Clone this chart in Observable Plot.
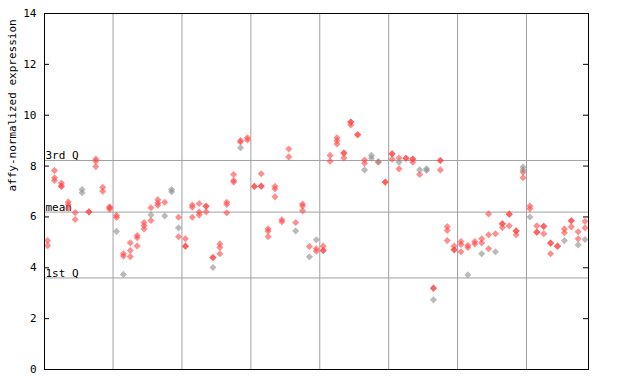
<!DOCTYPE html>
<html><head><meta charset="utf-8">
<script src="https://cdn.jsdelivr.net/npm/d3@7"></script>
<script src="https://cdn.jsdelivr.net/npm/@observablehq/plot@0.6"></script>
<style>body{margin:0;background:#fff}</style>
</head><body><div id="chart"></div>
<script>
// red replicate values per sample column (index 0..78)
const redValues = [
 [5.07,4.87],[7.83,7.54,7.43],[7.33,7.22,7.2],[6.59,6.49,6.34],[6.17,5.9],[],[6.2,6.2],[8.28,8.19,7.98],[7.17,7.01],[6.4,6.36,6.3],
 [6.06,5.98],[4.55,4.46],[4.98,4.68,4.44],[5.27,5.18,4.86],[5.78,5.66,5.53],[6.36,5.86],[6.68,6.55,6.46],[6.58],[],[5.99,5.22],
 [5.14,4.85,4.85],[6.47,6.38,5.99],[6.53,6.19,6.08],[6.42,6.42,6.2],[4.4,4.4],[4.94,4.8,4.55],[6.58,6.49,6.16],[7.67,7.43,7.37],[9.0,8.95],[9.11,9.03],
 [7.2,7.2],[7.7,7.21,7.21],[5.53,5.44,5.22],[7.2,7.1,6.79],[5.89,5.81],[8.67,8.36],[5.78],[6.51,6.43,6.24],[4.84],[4.75,4.65],
 [4.85,4.68,4.68],[8.42,8.19],[9.11,9.0,8.87],[8.51,8.51,8.32],[9.73,9.73,9.62],[9.23,9.23],[8.24,8.11],[],[8.15],[7.37,7.37],
 [8.48,8.48,8.27],[8.32,7.89],[8.31,8.31],[8.28,8.28,8.15],[7.67],[],[3.2,3.2],[8.22,8.22,7.85],[5.62,5.47,5.07],[4.85,4.71,4.71],
 [5.03,4.92,4.63],[4.88,4.8],[5.03,4.94],[5.14,4.98],[6.12,5.3,4.75],[5.34],[5.73,5.73,5.58],[6.11,6.11,5.65],[5.45,5.45,5.3],[7.76,7.54],
 [6.43,6.32],[5.65,5.4,5.4],[5.63,5.63,5.34],[4.97,4.97,4.55],[4.85,4.85],[5.53,5.38],[5.85,5.85,5.61],[5.42,5.14],[5.83,5.57]
];
// gray replicate values per sample column
const grayValues = [
 [],[],[],[],[],[7.08,6.95],[],[],[],[],
 [5.43],[3.74],[],[],[],[6.08],[],[6.04],[7.08,6.99],[5.57],
 [],[],[],[],[4.01],[],[],[],[8.72],[],
 [],[],[],[],[],[],[5.45],[],[4.43],[5.1],
 [],[],[],[],[],[],[7.85],[8.42,8.31],[8.18],[],
 [],[8.15],[],[],[7.85],[7.89,7.83],[2.74],[],[],[],
 [],[3.72],[],[4.55],[],[4.63],[],[],[],[7.96,7.85],
 [6.0],[],[],[],[],[5.07],[],[4.9],[5.11]
];
const yTicks = [0,2,4,6,8,10,12,14];
const groupBreaks = [9.5,19.5,29.5,39.5,49.5,59.5,69.5];
const refLines = [{label:"3rd Q", y:8.22},{label:"mean", y:6.19},{label:"1st Q", y:3.6}];
const yLabel = "affy-normalized expression";

const pts = [];
redValues.forEach((vs,i)=>vs.forEach(v=>pts.push({i, v, c:"red"})));
grayValues.forEach((vs,i)=>vs.forEach(v=>pts.push({i, v, c:"gray"})));

const font = "DejaVu Sans Mono, monospace";
const chart = Plot.plot({
  width: 640, height: 384,
  marginLeft: 44, marginRight: 52, marginTop: 13, marginBottom: 15,
  style: {fontFamily: font, fontSize: "11px", background: "#fff", color: "#000"},
  x: {domain: [-0.45, 78.5], axis: null},
  y: {domain: [0, 14], axis: null},
  marks: [
    Plot.ruleX(groupBreaks, {stroke: "#a0a0a0", strokeWidth: 1}),
    Plot.ruleY(refLines, {y: "y", stroke: "#a0a0a0", strokeWidth: 1}),
    Plot.text(refLines, {y: "y", text: "label", frameAnchor: "left", textAnchor: "start", lineAnchor: "bottom", dx: 1, dy: -1, fill: "#000", fontFamily: font, fontSize: 11}),
    Plot.dot(pts, {x: "i", y: "v", symbol: "diamond2", r: 3.2, fill: d => d.c === "red" ? "#ff4545" : "#8c8c8c", fillOpacity: 0.6, stroke: "none"}),
    Plot.frame({stroke: "#000", strokeWidth: 1}),
    Plot.tickY(yTicks, {y: d => d, insetRight: 539, stroke: "#000"}),
    Plot.tickY(yTicks, {y: d => d, insetLeft: 539, stroke: "#000"}),
    Plot.axisY({ticks: yTicks, tickSize: 0, tickPadding: 8, label: null, fontFamily: font, fontSize: 11}),
    Plot.text([yLabel], {frameAnchor: "left", rotate: -90, dx: -32, fill: "#000", fontFamily: font, fontSize: 11})
  ]
});
document.getElementById("chart").appendChild(chart);
</script>
</body></html>
